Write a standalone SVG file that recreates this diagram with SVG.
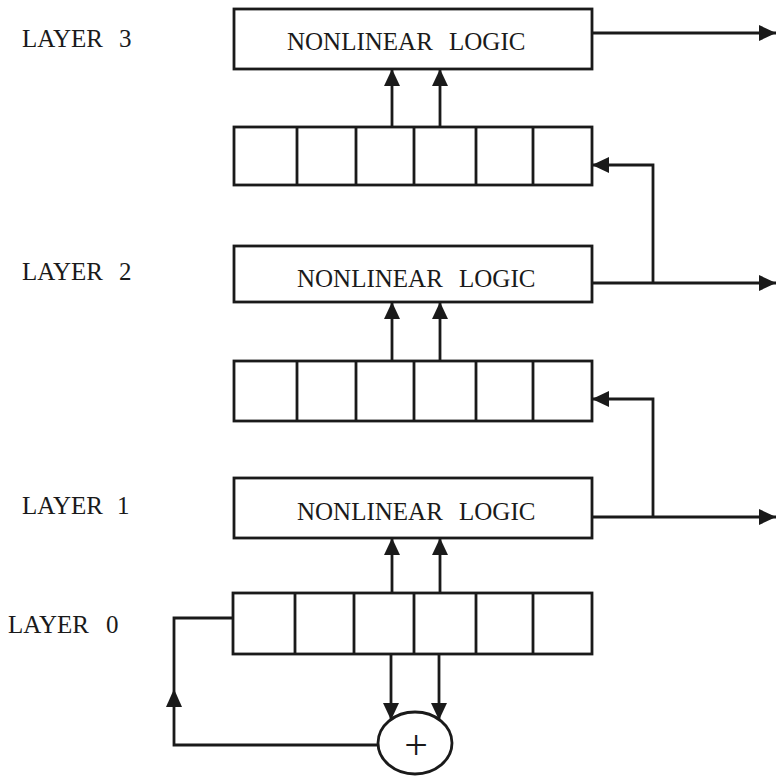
<svg xmlns="http://www.w3.org/2000/svg" width="776" height="776" viewBox="0 0 776 776">
<defs>
<marker id="ah" viewBox="0 0 17 16" refX="17" refY="8" markerWidth="17" markerHeight="16" markerUnits="userSpaceOnUse" orient="auto">
<path d="M0,0 L17,8 L0,16 Z" fill="#1a1a1a"/>
</marker>
</defs>
<style>
.box{fill:#fff;stroke:#1a1a1a;stroke-width:2.8}
.ln{fill:none;stroke:#1a1a1a;stroke-width:2.8}
.cn{fill:none;stroke:#1a1a1a;stroke-width:2.8;marker-end:url(#ah)}
.t{font-family:"Liberation Serif","Times New Roman",serif;font-size:25px;fill:#1a1a1a}
</style>
<rect width="776" height="776" fill="#fff"/>
<g id="labels">
<text class="t" x="22" y="47">LAYER</text><text class="t" x="119" y="47">3</text>
<text class="t" x="22" y="280">LAYER</text><text class="t" x="119" y="280">2</text>
<text class="t" x="22" y="514">LAYER</text><text class="t" x="117" y="514">1</text>
<text class="t" x="8" y="633">LAYER</text><text class="t" x="106" y="633">0</text>
</g>
<g id="logic3">
<rect class="box" x="234" y="9" width="358" height="60"/>
<text class="t" x="287" y="50">NONLINEAR</text><text class="t" x="449" y="50">LOGIC</text>
</g>
<g id="reg3">
<rect class="box" x="234" y="127" width="358" height="58"/>
<path class="ln" d="M297,127V185M356,127V185M414,127V185M476,127V185M533,127V185"/>
</g>
<g id="logic2">
<rect class="box" x="234" y="246" width="358" height="56"/>
<text class="t" x="297" y="287">NONLINEAR</text><text class="t" x="459" y="287">LOGIC</text>
</g>
<g id="reg2">
<rect class="box" x="234" y="361" width="358" height="60"/>
<path class="ln" d="M297,361V421M356,361V421M414,361V421M476,361V421M533,361V421"/>
</g>
<g id="logic1">
<rect class="box" x="234" y="478" width="358" height="60"/>
<text class="t" x="297" y="520">NONLINEAR</text><text class="t" x="459" y="520">LOGIC</text>
</g>
<g id="reg0">
<rect class="box" x="233" y="593" width="359" height="61"/>
<path class="ln" d="M295,593V654M354,593V654M414,593V654M476,593V654M533,593V654"/>
</g>
<g id="adder">
<ellipse class="box" cx="415" cy="743" rx="37" ry="31"/>
<text x="416" y="745" font-family="Liberation Serif,serif" font-size="42" text-anchor="middle" dominant-baseline="central" fill="#1a1a1a">+</text>
</g>
<g id="connectors">
<path class="cn" d="M392,127V69"/>
<path class="cn" d="M440,127V69"/>
<path class="cn" d="M392,361V302"/>
<path class="cn" d="M440,361V302"/>
<path class="cn" d="M392,593V538"/>
<path class="cn" d="M440,593V538"/>
<path class="cn" d="M592,33H776"/>
<path class="cn" d="M592,283H776"/>
<path class="cn" d="M592,517H776"/>
<path class="cn" d="M653,283V165H592"/>
<path class="cn" d="M653,517V399H592"/>
<path class="cn" d="M391,654V720"/>
<path class="cn" d="M439,654V720"/>
<path class="ln" d="M378,745H174V618H233"/>
<path d="M174,689 L182,707 L166,707 Z" fill="#1a1a1a"/>
</g>
</svg>
